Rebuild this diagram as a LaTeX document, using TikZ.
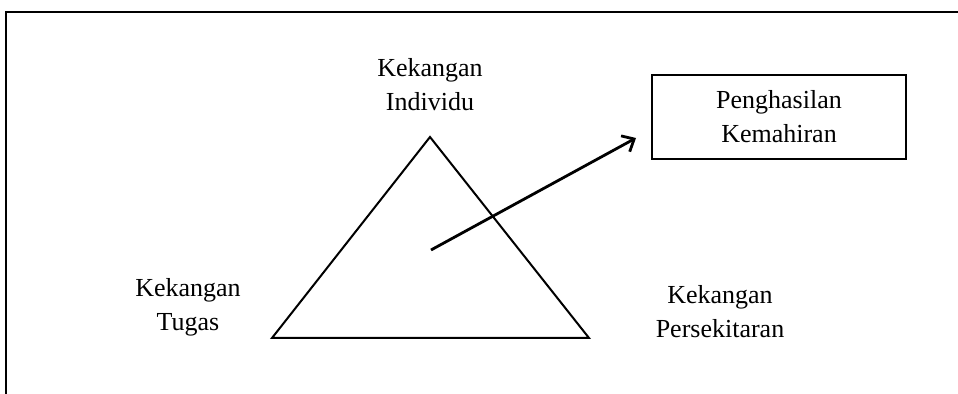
\documentclass[tikz,border=0pt]{standalone}
\usepackage{fontspec}
\setmainfont{Liberation Serif}
\usetikzlibrary{arrows.meta}
\begin{document}
\begin{tikzpicture}[x=0.5pt,y=-0.5pt,
  label text/.style={align=center,font=\fontsize{13}{17}\selectfont,inner sep=0pt},
  frame line/.style={line width=1.2pt},
  tri line/.style={line width=1pt,line join=miter},
  outbox/.style={draw,line width=1pt,minimum width=127pt,minimum height=42pt,inner sep=0pt},
  flow/.style={line width=1.4pt,-{Straight Barb[length=5pt,width=9pt,line width=1.4pt]}}]
  \useasboundingbox (0,0) rectangle (958,394);
  % open frame: top edge and left edge
  \draw[frame line] (6,394) -- (6,12) -- (958,12);
  % triangle of constraints
  \coordinate (apex) at (430,137);
  \coordinate (bl) at (272,338);
  \coordinate (br) at (589,338);
  \draw[tri line] (apex) -- (bl) -- (br) -- cycle;
  % labels at the corners
  \node[label text] (ind) at (430,85) {Kekangan\\Individu};
  \node[label text] (tug) at (188,307) {Kekangan\\Tugas};
  \node[label text] (per) at (720,312) {Kekangan\\Persekitaran};
  % outcome box
  \node[outbox,label text,draw] (out) at (779,117) {Penghasilan\\Kemahiran};
  % arrow from the triangle towards the outcome
  \coordinate (from) at (431,250);
  \coordinate (to) at (636,138);
  \draw[flow] (from) -- (to);
\end{tikzpicture}
\end{document}
